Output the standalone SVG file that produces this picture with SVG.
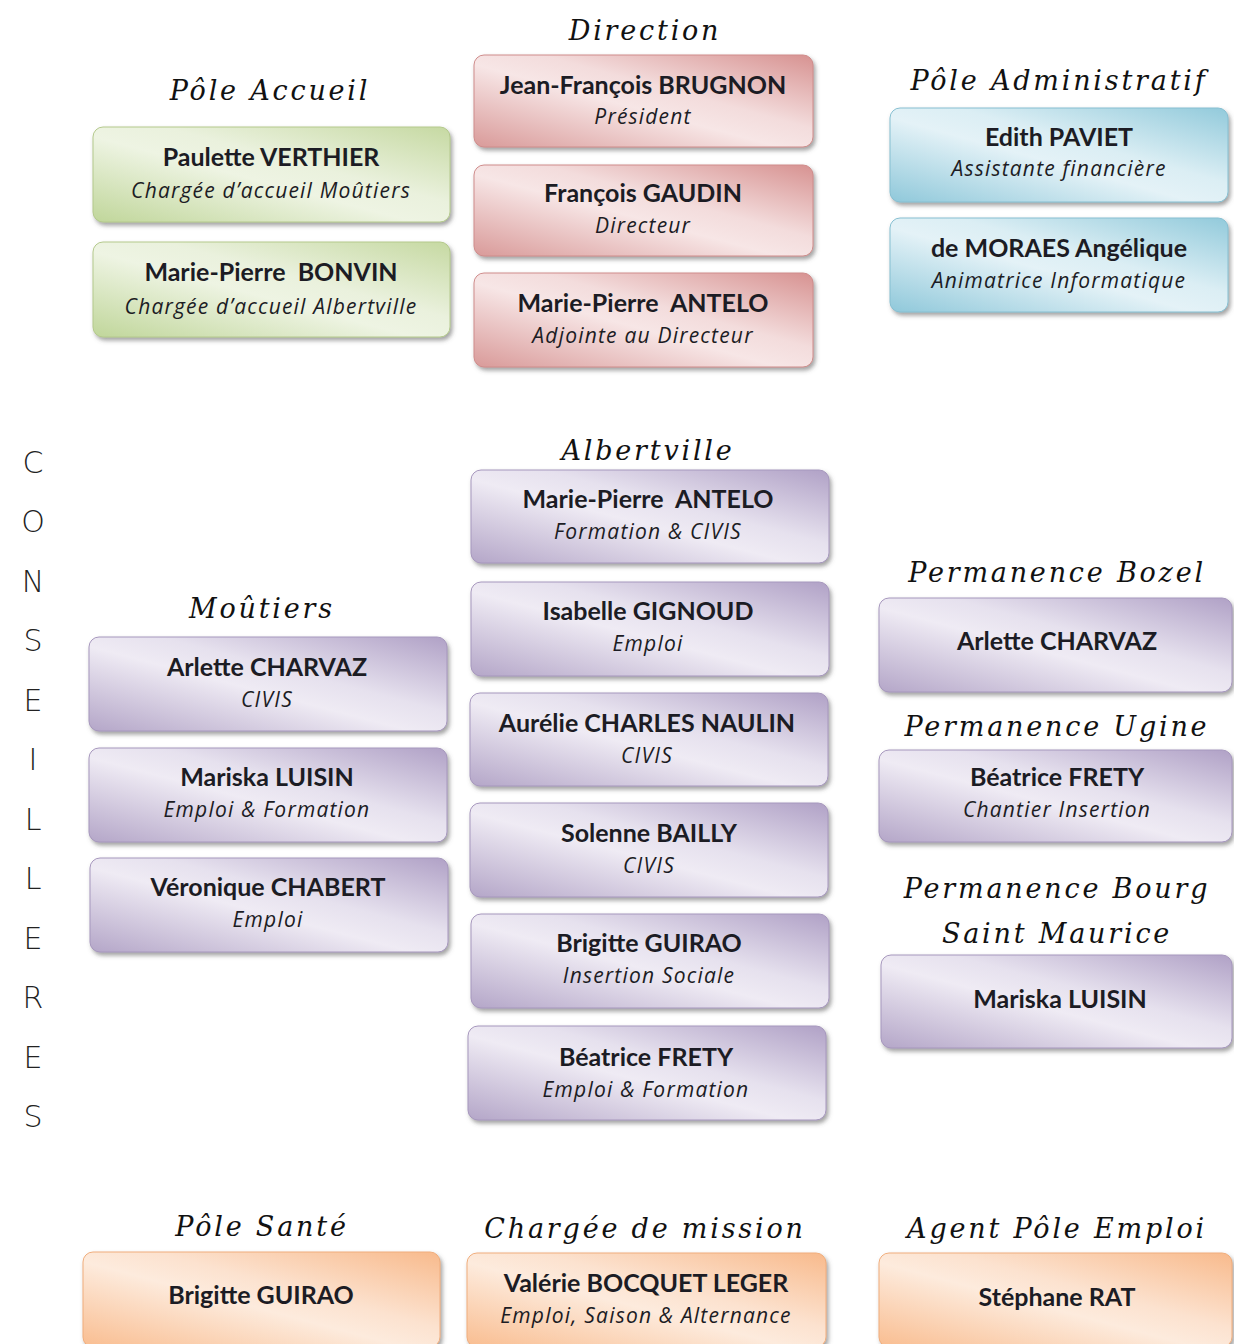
<svg xmlns="http://www.w3.org/2000/svg" width="1234" height="1344" viewBox="0 0 1234 1344">
<defs>
<filter id="sh" x="-5%" y="-10%" width="115%" height="130%">
<feDropShadow dx="2" dy="3" stdDeviation="2" flood-color="#555" flood-opacity="0.55"/>
</filter>
<linearGradient id="gGreen" x1="0" y1="1" x2="1" y2="0">
<stop offset="0" stop-color="#c0d69a"/><stop offset="0.45" stop-color="#eef4e3"/><stop offset="0.6" stop-color="#eaf1dd"/><stop offset="1" stop-color="#c6d9a2"/>
</linearGradient>
<linearGradient id="gRed" x1="0" y1="1" x2="1" y2="0">
<stop offset="0" stop-color="#d99a99"/><stop offset="0.45" stop-color="#f7e6e6"/><stop offset="0.6" stop-color="#f3dcdc"/><stop offset="1" stop-color="#d79291"/>
</linearGradient>
<linearGradient id="gBlue" x1="0" y1="1" x2="1" y2="0">
<stop offset="0" stop-color="#8fc8da"/><stop offset="0.45" stop-color="#e4f2f7"/><stop offset="0.6" stop-color="#dbeef4"/><stop offset="1" stop-color="#92cadb"/>
</linearGradient>
<linearGradient id="gPurple" x1="0" y1="1" x2="1" y2="0">
<stop offset="0" stop-color="#b4a6c8"/><stop offset="0.45" stop-color="#efebf4"/><stop offset="0.6" stop-color="#e6e1ee"/><stop offset="1" stop-color="#b0a1c6"/>
</linearGradient>
<linearGradient id="gOrange" x1="0" y1="1" x2="1" y2="0">
<stop offset="0" stop-color="#f9bd90"/><stop offset="0.45" stop-color="#fdebdd"/><stop offset="0.6" stop-color="#fce2cf"/><stop offset="1" stop-color="#f8ba8c"/>
</linearGradient>
</defs>
<style>
.box{filter:url(#sh);}
.green{fill:url(#gGreen);stroke:#b4c98c;stroke-width:1}
.red{fill:url(#gRed);stroke:#cf8c8b;stroke-width:1}
.blue{fill:url(#gBlue);stroke:#86bfd1;stroke-width:1}
.purple{fill:url(#gPurple);stroke:#a697bd;stroke-width:1}
.orange{fill:url(#gOrange);stroke:#f0ad7c;stroke-width:1}
.n{font-family:Lato,"Liberation Sans",sans-serif;font-weight:bold;font-size:25px;fill:#1c1c24;text-anchor:middle}
.r{font-family:"Open Sans","Liberation Sans",sans-serif;font-style:italic;font-size:21px;letter-spacing:1.2px;fill:#1c1c24;text-anchor:middle}
.h{font-family:"DejaVu Serif",serif;font-style:italic;font-size:27px;letter-spacing:2.8px;fill:#111;text-anchor:middle}
.v{font-family:"DejaVu Sans","Liberation Sans",sans-serif;font-size:30px;fill:#222;text-anchor:middle;font-weight:300}
</style>
<rect width="1234" height="1344" fill="#fff"/>

<g id="headings">
<text class="h" x="645" y="40">Direction</text>
<text class="h" x="270" y="100">Pôle Accueil</text>
<text class="h" x="1059" y="90">Pôle Administratif</text>
<text class="h" x="648" y="460">Albertville</text>
<text class="h" x="262" y="618">Moûtiers</text>
<text class="h" x="1057" y="582">Permanence Bozel</text>
<text class="h" x="1057" y="736">Permanence Ugine</text>
<text class="h" x="1057" y="898">Permanence Bourg</text>
<text class="h" x="1057" y="943">Saint Maurice</text>
<text class="h" x="262" y="1236">Pôle Santé</text>
<text class="h" x="645" y="1238">Chargée de mission</text>
<text class="h" x="1057" y="1238">Agent Pôle Emploi</text>
</g>

<g id="conseilleres">
<text class="v" x="33" y="473">C</text>
<text class="v" x="33" y="532">O</text>
<text class="v" x="33" y="592">N</text>
<text class="v" x="33" y="651">S</text>
<text class="v" x="33" y="711">E</text>
<text class="v" x="33" y="770">I</text>
<text class="v" x="33" y="830">L</text>
<text class="v" x="33" y="889">L</text>
<text class="v" x="33" y="949">E</text>
<text class="v" x="33" y="1008">R</text>
<text class="v" x="33" y="1068">E</text>
<text class="v" x="33" y="1127">S</text>
</g>

<g id="connectors"></g>

<!-- Pôle Accueil -->
<g id="n-verthier"><rect class="box green" x="93" y="127" width="357" height="95" rx="10"/>
<text class="n" x="271" y="166">Paulette VERTHIER</text><text class="r" x="271" y="198">Chargée d’accueil Moûtiers</text></g>
<g id="n-bonvin"><rect class="box green" x="93" y="242" width="357" height="95" rx="10"/>
<text class="n" x="271" y="281">Marie-Pierre&#160; BONVIN</text><text class="r" x="271" y="314">Chargée d’accueil Albertville</text></g>

<!-- Direction -->
<g id="n-brugnon"><rect class="box red" x="474" y="55" width="339" height="92" rx="10"/>
<text class="n" x="643" y="94">Jean-François BRUGNON</text><text class="r" x="643" y="124">Président</text></g>
<g id="n-gaudin"><rect class="box red" x="474" y="165" width="339" height="91" rx="10"/>
<text class="n" x="643" y="202">François GAUDIN</text><text class="r" x="643" y="233">Directeur</text></g>
<g id="n-antelo-dir"><rect class="box red" x="474" y="273" width="339" height="94" rx="10"/>
<text class="n" x="643" y="312">Marie-Pierre&#160; ANTELO</text><text class="r" x="643" y="343">Adjointe au Directeur</text></g>

<!-- Pôle Administratif -->
<g id="n-paviet"><rect class="box blue" x="890" y="108" width="338" height="94" rx="10"/>
<text class="n" x="1059" y="146">Edith PAVIET</text><text class="r" x="1059" y="176">Assistante financière</text></g>
<g id="n-moraes"><rect class="box blue" x="890" y="218" width="338" height="94" rx="10"/>
<text class="n" x="1059" y="257">de MORAES Angélique</text><text class="r" x="1059" y="288">Animatrice Informatique</text></g>

<!-- Albertville -->
<g id="n-antelo-alb"><rect class="box purple" x="471" y="470" width="358" height="93" rx="10"/>
<text class="n" x="648" y="508">Marie-Pierre&#160; ANTELO</text><text class="r" x="648" y="539">Formation &amp; CIVIS</text></g>
<g id="n-gignoud"><rect class="box purple" x="471" y="582" width="358" height="94" rx="10"/>
<text class="n" x="648" y="620">Isabelle GIGNOUD</text><text class="r" x="648" y="651">Emploi</text></g>
<g id="n-naulin"><rect class="box purple" x="470" y="693" width="358" height="93" rx="10"/>
<text class="n" x="647" y="732">Aurélie CHARLES NAULIN</text><text class="r" x="647" y="763">CIVIS</text></g>
<g id="n-bailly"><rect class="box purple" x="470" y="803" width="358" height="94" rx="10"/>
<text class="n" x="649" y="842">Solenne BAILLY</text><text class="r" x="649" y="873">CIVIS</text></g>
<g id="n-guirao-alb"><rect class="box purple" x="471" y="914" width="358" height="94" rx="10"/>
<text class="n" x="649" y="952">Brigitte GUIRAO</text><text class="r" x="649" y="983">Insertion Sociale</text></g>
<g id="n-frety-alb"><rect class="box purple" x="468" y="1026" width="358" height="94" rx="10"/>
<text class="n" x="646" y="1066">Béatrice FRETY</text><text class="r" x="646" y="1097">Emploi &amp; Formation</text></g>

<!-- Moûtiers -->
<g id="n-charvaz-mou"><rect class="box purple" x="89" y="637" width="358" height="94" rx="10"/>
<text class="n" x="267" y="676">Arlette CHARVAZ</text><text class="r" x="267" y="707">CIVIS</text></g>
<g id="n-luisin-mou"><rect class="box purple" x="89" y="748" width="358" height="94" rx="10"/>
<text class="n" x="267" y="786">Mariska LUISIN</text><text class="r" x="267" y="817">Emploi &amp; Formation</text></g>
<g id="n-chabert"><rect class="box purple" x="90" y="858" width="358" height="94" rx="10"/>
<text class="n" x="268" y="896">Véronique CHABERT</text><text class="r" x="268" y="927">Emploi</text></g>

<!-- Permanences -->
<g id="n-charvaz-bozel"><rect class="box purple" x="879" y="598" width="353" height="94" rx="10"/>
<text class="n" x="1057" y="650">Arlette CHARVAZ</text></g>
<g id="n-frety-ugine"><rect class="box purple" x="879" y="750" width="353" height="92" rx="10"/>
<text class="n" x="1057" y="786">Béatrice FRETY</text><text class="r" x="1057" y="817">Chantier Insertion</text></g>
<g id="n-luisin-bsm"><rect class="box purple" x="881" y="955" width="351" height="93" rx="10"/>
<text class="n" x="1060" y="1008">Mariska LUISIN</text></g>

<!-- Bottom -->
<g id="n-guirao-sante"><rect class="box orange" x="83" y="1252" width="357" height="95" rx="10"/>
<text class="n" x="261" y="1304">Brigitte GUIRAO</text></g>
<g id="n-bocquet"><rect class="box orange" x="467" y="1253" width="359" height="94" rx="10"/>
<text class="n" x="646" y="1292">Valérie BOCQUET LEGER</text><text class="r" x="646" y="1323">Emploi, Saison &amp; Alternance</text></g>
<g id="n-rat"><rect class="box orange" x="879" y="1253" width="353" height="94" rx="10"/>
<text class="n" x="1057" y="1306">Stéphane RAT</text></g>
</svg>
